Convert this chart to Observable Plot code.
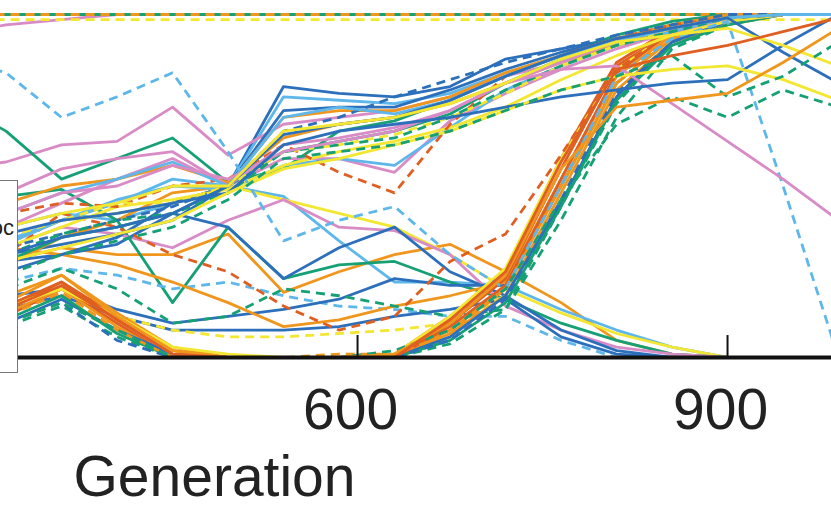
<!DOCTYPE html>
<html><head><meta charset="utf-8">
<script src="https://cdn.jsdelivr.net/npm/d3@7"></script>
<script src="https://cdn.jsdelivr.net/npm/@observablehq/plot@0.6"></script>
<style>
html,body{margin:0;padding:0;background:#fff;overflow:hidden;}
#wrap{position:relative;width:831px;height:511px;overflow:hidden;}
#wrap svg{overflow:hidden;display:block;}
#legend{position:absolute;z-index:2;left:-120px;top:180px;width:138px;height:193px;border:1px solid #777;background:#fff;box-sizing:border-box;font-family:"Liberation Sans",Arial,sans-serif;font-size:22px;color:#222;}
#legend span{position:absolute;right:3px;top:34px;white-space:nowrap;}
</style></head><body>
<div id="wrap"><div id="legend"><span>Loc</span></div></div>
<script>
// Sampled generations
const generations = [270,315,360,405,450,495,540,585,630,675,720,765,810,855,900,945,990];
const tickValues = [600, 900];
const axisTitle = "Generation";
const legendText = "Loc";

// Allele frequency trajectories (% frequency), one entry per generation above
const fixedSeries = [
  {c:"pink",   t:"solid",  v:[94,97,98.5,100,100,100,100,100,100,100,100,100,100,100,100,100,100]},
  {c:"orange", t:"solid",  v:[100,100,100,100,100,100,100,100,100,100,100,100,100,100,100,100,100]},
  {c:"green",  t:"solid",  v:[100,100,100,100,100,100,100,100,100,100,100,100,100,100,100,100,100]},
  {c:"orange", t:"dashed", v:[100,100,100,100,100,100,100,100,100,100,100,100,100,100,100,100,100]},
  {c:"yellow", t:"dashed", v:[98.5,98.5,98.5,98.5,98.5,98.5,98.5,98.5,98.5,98.5,98.5,98.5,98.5,98.5,98.5,98.5,98.5]}
];
const lostSeries = [
  {c:"orange", t:"solid",  v:[30,28,32,30,30,36,19,25,30,33,25,16,5,1,0,0,0]},
  {c:"sky",    t:"solid",  v:[35,38,42,40,45,50,47,34,22,22,21,14,8,3,0,0,0]},
  {c:"yellow", t:"solid",  v:[30,33,40,42,45,50,46,42,38,30,20,13,7,3,0,0,0]},
  {c:"green",  t:"solid",  v:[45,47,49,40,16,38,23,27,28,22,17,10,5,1,0,0,0]},
  {c:"pink",   t:"solid",  v:[30,32,38,36,32,40,46,38,37,30,15,8,3,1,0,0,0]},
  {c:"blue",   t:"solid",  v:[25,28,30,33,42,38,23,32,38,25,18,8,2,0,0,0,0]},
  {c:"sky",    t:"dashed", v:[20,22,26,24,20,22,18,15,14,12,12,5,0,0,0,0,0]},
  {c:"blue",   t:"solid",  v:[10,14,18,12,8,8,8,9,12,14,17,6,1,0,0,0,0]}
];
const lowSeries = [
  {c:"blue",   t:"solid",  v:[15,18,20,14,10,12,14,17,23,21,21,50,80,93,98,100,100]},
  {c:"orange", t:"solid",  v:[30,32,30,27,22,16,9,11,15,18,22,52,82,94,99,100,100]},
  {c:"yellow", t:"dashed", v:[15,18,24,12,8,6,6,7,8,10,18,48,80,93,98,100,100]},
  {c:"green",  t:"dashed", v:[18,20,26,20,10,12,20,18,15,12,14,44,74,92,98,100,100]}
];
const sweepSeries = [
  {c:"verm",   t:"solid",  v:[10,14,22,12,2,0,0,0,0,10,23,55,85,95,99,100,100]},
  {c:"verm",   t:"solid",  v:[8,12,20,10,0,0,0,0,1,12,25,58,86,96,100,100,100]},
  {c:"orange", t:"solid",  v:[12,16,24,13,3,0,0,0,0,8,20,50,80,93,98,100,100]},
  {c:"orange", t:"solid",  v:[9,13,20,9,0,0,0,0,0,7,18,48,78,92,97,100,100]},
  {c:"blue",   t:"solid",  v:[6,10,17,8,1,0,0,0,0,6,18,45,76,92,98,100,100]},
  {c:"green",  t:"solid",  v:[7,11,18,7,0,0,0,0,0,5,16,44,75,91,97,100,100]},
  {c:"yellow", t:"solid",  v:[12,15,20,12,3,1,0,0,1,12,26,58,84,95,99,100,100]},
  {c:"verm",   t:"solid",  v:[10,14,21,11,1,0,0,0,0,9,21,52,83,95,99,100,100]},
  {c:"orange", t:"dashed", v:[8,12,19,8,0,0,0,1,1,7,20,50,80,94,99,100,100]},
  {c:"green",  t:"dashed", v:[5,9,15,6,0,0,0,0,0,4,14,40,70,90,97,100,100]},
  {c:"blue",   t:"dashed", v:[6,10,16,5,0,0,0,0,0,5,17,46,77,92,98,100,100]},
  {c:"verm",   t:"dashed", v:[20,30,42,38,30,25,15,8,12,28,36,59,84,95,99,100,100]}
];
const riseSeries = [
  {c:"blue",   t:"solid",  v:[28,30,33,36,40,50,79,77,76,79,87,90,93,96,99,100,100]},
  {c:"sky",    t:"solid",  v:[30,34,40,45,52,50,76,75,74,77,83,88,92,96,99,100,100]},
  {c:"pink",   t:"solid",  v:[55,57,62,63,73,59,68,70,72,76,82,86,91,95,98,100,100]},
  {c:"green",  t:"solid",  v:[75,66,52,58,64,51,55,66,69,75,82,88,94,98,100,100,100]},
  {c:"blue",   t:"solid",  v:[20,25,30,35,45,50,72,73,73,78,84,89,93,97,99,100,100]},
  {c:"orange", t:"solid",  v:[25,27,35,40,48,50,70,72,72,76,83,88,93,97,100,100,100]},
  {c:"pink",   t:"solid",  v:[35,38,45,52,58,50,58,58,54,69,77,84,90,95,99,100,100]},
  {c:"sky",    t:"solid",  v:[30,33,40,46,50,49,56,58,56,67,78,85,91,95,99,100,100]},
  {c:"yellow", t:"solid",  v:[30,32,38,44,46,49,56,60,63,67,73,81,88,94,98,100,100]},
  {c:"green",  t:"solid",  v:[22,28,35,38,42,50,60,63,66,71,80,87,92,96,99,100,100]},
  {c:"verm",   t:"dashed", v:[35,42,45,44,50,52,62,54,48,68,82,88,93,97,99,100,100]},
  {c:"blue",   t:"dashed", v:[30,32,36,40,44,50,66,70,76,81,86,90,94,97,100,100,100]},
  {c:"orange", t:"solid",  v:[40,45,50,52,56,51,64,68,70,74,80,86,91,96,99,100,100]},
  {c:"pink",   t:"solid",  v:[45,48,55,58,60,50,62,64,67,72,80,86,92,96,99,100,100]},
  {c:"yellow", t:"dashed", v:[30,35,40,45,45,50,60,62,65,70,77,85,91,96,99,100,100]},
  {c:"green",  t:"dashed", v:[25,30,36,40,42,48,60,62,64,70,78,85,91,95,99,100,100]},
  {c:"sky",    t:"solid",  v:[38,42,48,52,57,50,70,73,71,75,82,88,92,96,99,100,100]},
  {c:"sky",    t:"dashed", v:[88,83,70,76,83,60,34,40,44,30,20,50,82,93,98,50,0]}
];
const lateSeries = [
  {c:"pink",   t:"solid",  v:[40,42,48,50,56,52,60,63,66,72,80,84,85,74,63,52,40]},
  {c:"blue",   t:"solid",  v:[33,36,40,42,45,48,62,66,68,70,73,76,78,80,81,91,100]},
  {c:"blue",   t:"solid",  v:[28,30,35,38,42,50,65,68,70,75,82,88,93,96,99,89,80]},
  {c:"yellow", t:"solid",  v:[25,28,32,36,40,48,55,58,62,66,72,78,82,84,85,81,75]},
  {c:"yellow", t:"solid",  v:[35,38,42,45,50,50,66,68,70,74,80,87,92,94,96,91,85]},
  {c:"green",  t:"dashed", v:[6,10,16,8,0,0,0,0,2,8,20,46,68,76,70,78,73]},
  {c:"green",  t:"dashed", v:[20,24,30,34,38,46,58,60,62,66,72,78,82,88,76,82,92]},
  {c:"orange", t:"solid",  v:[15,18,24,12,2,0,0,0,1,10,24,55,73,75,77,86,96]},
  {c:"verm",   t:"solid",  v:[12,15,22,11,1,0,0,0,0,11,25,57,84,88,91,95,99]}
];

const palette = {
  blue:"#2c6fbb", orange:"#f0961d", verm:"#df5f22", sky:"#5eb7ea",
  green:"#16a075", yellow:"#f3e731", pink:"#d98bc6"
};

const allSeries = [...fixedSeries, ...lostSeries, ...lowSeries, ...sweepSeries, ...riseSeries, ...lateSeries];

const lineMarks = allSeries.map(s => Plot.line(
  generations.map((g, i) => ({g, v: s.v[i]})),
  {x: "g", y: "v", stroke: palette[s.c], strokeWidth: 2.8,
   strokeDasharray: s.t === "dashed" ? "9,6" : null,
   strokeLinejoin: "round", strokeLinecap: "butt"}
));

const chart = Plot.plot({
  width: 831, height: 511,
  marginLeft: 0, marginRight: 0, marginTop: 14, marginBottom: 154,
  x: {domain: [310.5, 984.3]},
  y: {domain: [0, 100], axis: null},
  style: {fontFamily: "'Liberation Sans', Arial, Helvetica, sans-serif", background: "white", color: "#222"},
  marks: [
    ...lineMarks,
    Plot.ruleY([0], {stroke: "#111", strokeWidth: 4}),
    Plot.ruleX(tickValues, {y1: 0, y2: 6.4, stroke: "#111", strokeWidth: 2}),
    Plot.axisX(tickValues, {tickSize: 0, tickPadding: 31, fontSize: 57, dx: -7, tickFormat: d => String(d), label: null}),
    Plot.text([{label: axisTitle, g: 484}], {x: "g", text: "label", frameAnchor: "bottom", dy: 138, fontSize: 57, fill: "#222"})
  ]
});
document.getElementById("wrap").prepend(chart);
document.querySelector("#legend span").textContent = legendText;
</script>
</body></html>
